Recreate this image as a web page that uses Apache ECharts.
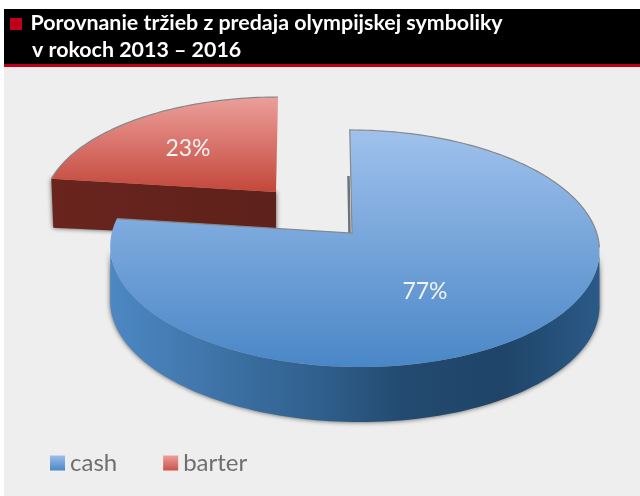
<!DOCTYPE html>
<html><head><meta charset="utf-8">
<style>html,body{margin:0;padding:0;background:#fff}#c{width:640px;height:496px}</style>
<script src="https://cdn.jsdelivr.net/npm/echarts@6/dist/echarts.min.js"></script>
</head><body><div id="c"></div>
<script>
const titleLines = ['Porovnanie tržieb z predaja olympijskej symboliky', 'v rokoch 2013 – 2016'];
const categories = ['cash', 'barter'];
const shares = [77, 23];

const total = shares.reduce((a, b) => a + b, 0);
const K = 0.1308;
const geom = {
  cash: {start: 0, cx: 354.2, ax: 352, cy: 233, A: 242.5, B: 116.5, s: 5, depth: 55, lx: 425, ly: 292,
    topGrad: ['#a0c1ec', '#4a87c7'],
    sideStops: [[0, '#4d88c3'], [0.43, '#2f5f8c'], [0.6, '#234a70'], [0.8, '#1f4468'], [1, '#2b5a88']],
    edgeTo: 97},
  barter: {start: shares[0] / total * 360, cx: 276, ax: 276, cy: 192, A: 230.5, B: 107.4, s: -2.3, depth: 49, lx: 188, ly: 149,
    topGrad: ['#ec9f9a', '#c4473b'],
    sideStops: [[0, '#6a241e'], [1, '#5e211b']]}
};
const grad = (a, b) => ({type: 'linear', x: 0, y: 0, x2: 0, y2: 1,
  colorStops: [{offset: 0, color: a}, {offset: 1, color: b}]});

function pt(g, deg) {
  const r = deg * Math.PI / 180, u = Math.sin(r), v = -Math.cos(r), w = 1 - K * v;
  return [g.cx + (g.A * u + g.s * v) / w, g.cy + g.B * v / w];
}
function arc(g, a, b) {
  const n = Math.max(2, Math.ceil(Math.abs(b - a) / 1.5)), out = [];
  for (let i = 0; i <= n; i++) out.push(pt(g, a + (b - a) * i / n));
  return out;
}
function renderSlice(name) {
  const g = geom[name];
  return function (params, api) {
    const value = api.value(0);
    const sweep = value / total * 360;
    const a0 = g.start, a1 = g.start + sweep;
    const apex = [g.ax, g.cy];
    const rim = arc(g, a0, a1);
    const kids = [];
    const sideStyle = {
      fill: {type: 'linear', x: 0, y: 0, x2: 1, y2: 0,
        colorStops: g.sideStops.map(s => ({offset: s[0], color: s[1]}))},
      shadowBlur: 5, shadowColor: 'rgba(30,30,30,0.75)'
    };
    if (name === 'cash') {
      const front = arc(g, 97.5, 262.5);
      const pts = front.concat(front.slice().reverse().map(p => [p[0], p[1] + g.depth]));
      kids.push({type: 'polygon', shape: {points: pts}, style: sideStyle});
      kids.push({type: 'line', shape: {x1: 348.5, y1: 176, x2: 349.5, y2: 233},
        style: {stroke: '#6d7278', lineWidth: 2.5}});
    } else {
      const l = rim[0];
      kids.push({type: 'polygon',
        shape: {points: [l, apex, [apex[0], apex[1] + g.depth - 3], [l[0] + 2, l[1] + g.depth]]},
        style: sideStyle});
    }
    kids.push({type: 'polygon', shape: {points: [apex].concat(rim)},
      style: {fill: grad(g.topGrad[0], g.topGrad[1])}});
    const edge = name === 'cash'
      ? [rim[rim.length - 1], apex].concat(arc(g, 0, g.edgeTo))
      : rim;
    kids.push({type: 'polyline', shape: {points: edge},
      style: {stroke: '#85888c', lineWidth: 1.2, fill: null}});
    kids.push({type: 'text', style: {
      text: Math.round(value / total * 100) + '%', x: g.lx, y: g.ly,
      align: 'center', verticalAlign: 'middle', fill: '#f2f2f2',
      font: '23px Lato'}});
    return {type: 'group', children: kids};
  };
}

const chart = echarts.init(document.getElementById('c'), null, {renderer: 'canvas'});
chart.setOption({
  animation: false,
  backgroundColor: '#ffffff',
  graphic: [
    {type: 'rect', shape: {x: 4, y: 66, width: 636, height: 430}, style: {fill: '#eeeeee'}, z: 0},
    {type: 'rect', shape: {x: 4, y: 9, width: 636, height: 55}, style: {fill: '#000000'}, z: 0},
    {type: 'rect', shape: {x: 4, y: 64, width: 636, height: 3}, style: {fill: '#c00018'}, z: 0},
    {type: 'rect', shape: {x: 10, y: 18, width: 12, height: 12}, style: {fill: '#c00018'}, z: 0}
  ],
  title: [
    {text: titleLines[0], left: 30.5, top: 13, padding: 0,
      textStyle: {color: '#fff', fontFamily: 'Lato', fontWeight: 'bold', fontSize: 21.4}},
    {text: titleLines[1], left: 32, top: 40, padding: 0,
      textStyle: {color: '#fff', fontFamily: 'Lato', fontWeight: 'bold', fontSize: 21.4}}
  ],
  legend: {
    left: 50, top: 451, orient: 'horizontal', itemWidth: 15, itemHeight: 15, itemGap: 46, padding: 0,
    icon: 'rect', selectedMode: false,
    textStyle: {color: '#6f6f6f', fontFamily: 'Lato', fontSize: 24},
    data: categories
  },
  series: [
    {type: 'custom', name: categories[1], coordinateSystem: 'none', renderItem: renderSlice('barter'),
      data: [shares[1]], z: 2, silent: true,
      itemStyle: {color: grad('#ec9f9a', '#c9524a')}},
    {type: 'custom', name: categories[0], coordinateSystem: 'none', renderItem: renderSlice('cash'),
      data: [shares[0]], z: 3, silent: true,
      itemStyle: {color: grad('#9cbeea', '#4a87c7')}}
  ]
});
</script></body></html>
